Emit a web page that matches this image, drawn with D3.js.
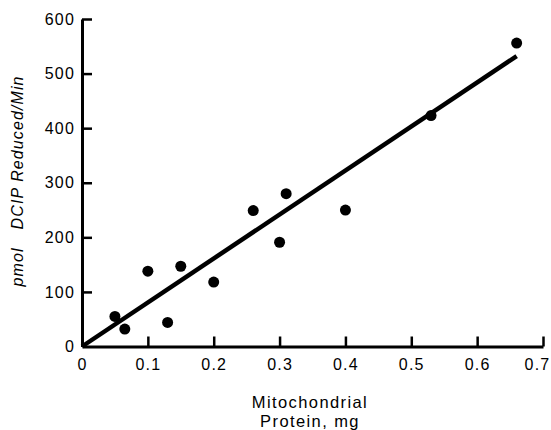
<!DOCTYPE html>
<html>
<head>
<meta charset="utf-8">
<script src="https://cdn.jsdelivr.net/npm/d3@7"></script>
<style>
  body { margin: 0; background: #fff; }
  text { font-family: "Liberation Sans", Arial, sans-serif; fill: #000; }
</style>
</head>
<body>
<div id="chart"></div>
<script>
const w = 551;
const h = 430;

// data
const protein = [0.05, 0.065, 0.1, 0.13, 0.15, 0.2, 0.26, 0.3, 0.31, 0.4, 0.53, 0.66];
const rate = [55, 32, 138, 44, 147, 118, 249, 191, 280, 250, 423, 556];
const fitLine = [[0, 0], [0.66, 532]];
const xTicks = [0, 0.1, 0.2, 0.3, 0.4, 0.5, 0.6, 0.7];
const yTicks = [0, 100, 200, 300, 400, 500, 600];

const xScale = d3.scaleLinear()
  .domain([0, 0.7])
  .range([82, 543]);
const yScale = d3.scaleLinear()
  .domain([0, 600])
  .range([346.5, 19]);

const svg = d3.select('#chart')
  .append('svg')
  .attr('width', w)
  .attr('height', h);

//x-axis
const xAxis = svg.append('g')
  .attr('transform', 'translate(0,' + yScale(0) + ')')
  .call(d3.axisBottom(xScale)
    .tickValues(xTicks)
    .tickFormat(d => d === 0 ? '0' : d3.format('.1f')(d))
    .tickSize(-10)
    .tickSizeOuter(0)
    .tickPadding(12));

//y-axis
const yAxis = svg.append('g')
  .attr('transform', 'translate(' + xScale(0) + ',0)')
  .call(d3.axisLeft(yScale)
    .tickValues(yTicks)
    .tickSize(-10)
    .tickSizeOuter(0)
    .tickPadding(7));

[xAxis, yAxis].forEach(function (g) {
  g.select('.domain').attr('stroke', '#000').attr('stroke-width', 3);
  g.selectAll('.tick line').attr('stroke', '#000').attr('stroke-width', 2.5);
  g.selectAll('.tick text')
    .style('font-size', '16px')
    .style('letter-spacing', '1.2px')
    .style('font-family', '"Liberation Sans", Arial, sans-serif')
    .attr('fill', '#000');
});
xAxis.selectAll('.tick').filter(d => d === 0).select('line').remove();
yAxis.selectAll('.tick').filter(d => d === 0).select('line').remove();
xAxis.selectAll('.tick').filter(d => d === 0.7).select('text').attr('dx', -6);

// regression line
svg.append('path')
  .datum(fitLine)
  .attr('fill', 'none')
  .attr('stroke', '#000')
  .attr('stroke-width', 4.5)
  .attr('d', d3.line()
    .x(d => xScale(d[0]))
    .y(d => yScale(d[1])));

// points
svg.selectAll('circle')
  .data(protein)
  .enter()
  .append('circle')
  .attr('cx', d => xScale(d))
  .attr('cy', (d, i) => yScale(rate[i]))
  .attr('r', 5.5)
  .attr('fill', '#000');

//x-axis label
svg.append('text')
  .attr('x', 310)
  .attr('y', 408)
  .attr('text-anchor', 'middle')
  .style('font-size', '16.5px')
  .style('letter-spacing', '1.4px')
  .text('Mitochondrial');
svg.append('text')
  .attr('x', 310)
  .attr('y', 427)
  .attr('text-anchor', 'middle')
  .style('font-size', '16.5px')
  .style('letter-spacing', '1.4px')
  .text('Protein, mg');

//y-axis label
const yLabel = svg.append('text')
  .attr('text-anchor', 'middle')
  .attr('transform', 'translate(23,181)rotate(-90)')
  .style('font-size', '16px')
  .style('letter-spacing', '1.1px')
  .style('font-style', 'italic');
yLabel.append('tspan').text('pmol');
yLabel.append('tspan').attr('dx', 18).text('DCIP Reduced/Min');
</script>
</body>
</html>
